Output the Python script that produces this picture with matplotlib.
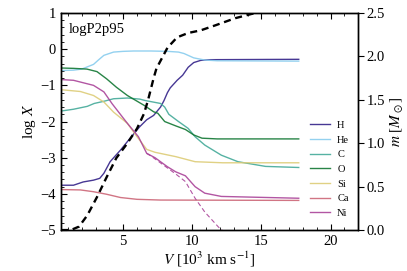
import numpy as np
import matplotlib
matplotlib.use("Agg")
import matplotlib.pyplot as plt
from matplotlib.ticker import MultipleLocator

plt.rcParams['font.family'] = ['Liberation Serif', 'DejaVu Serif']
plt.rcParams['mathtext.fontset'] = 'stix'
plt.rcParams['axes.linewidth'] = 1.0

model_name = "logP2p95"
elements = ["H", "He", "C", "O", "Si", "Ca", "Ni"]
colors = ["#332288", "#88CCEE", "#44AA99", "#117733", "#DDCC77", "#CC6677", "#AA4499"]

# velocity [1e3 km/s] and log mass fraction
v_H = [0.5, 1.4, 2.1, 2.85, 3.3, 3.6, 4.05, 4.8, 5.5, 6.2, 6.7, 7.2, 7.7, 7.95, 8.2, 8.4,
       8.9, 9.3, 9.7, 10.1, 10.6, 11.3, 17.7]
x_H = [-3.76, -3.76, -3.67, -3.62, -3.57, -3.43, -3.11, -2.79, -2.46, -2.14, -1.95, -1.83,
       -1.6, -1.42, -1.2, -1.07, -0.86, -0.72, -0.5, -0.37, -0.31, -0.29, -0.28]

v_He = [0.5, 1.4, 2.0, 2.85, 3.2, 3.6, 4.3, 5.0, 5.75, 7.0, 8.2, 9.0, 9.4, 10.1, 10.9, 11.8, 17.7]
x_He = [-0.59, -0.58, -0.55, -0.42, -0.3, -0.17, -0.08, -0.06, -0.05, -0.05, -0.06, -0.08,
        -0.12, -0.24, -0.3, -0.32, -0.33]

v_C = [0.5, 1.4, 2.4, 2.9, 3.6, 4.3, 5.3, 6.2, 6.6, 7.7, 8.0, 8.3, 9.0, 9.7, 10.2, 10.9,
       12.1, 13.3, 15.3, 17.7]
x_C = [-1.71, -1.66, -1.58, -1.5, -1.44, -1.37, -1.35, -1.38, -1.42, -1.5, -1.6, -1.8,
       -2.0, -2.19, -2.42, -2.65, -2.93, -3.11, -3.24, -3.27]

v_O = [0.5, 1.4, 2.37, 3.1, 3.8, 4.5, 5.3, 6.5, 7.2, 7.5, 8.0, 8.8, 9.5, 10.1, 10.7, 11.8, 17.7]
x_O = [-0.52, -0.53, -0.55, -0.62, -0.82, -1.05, -1.28, -1.55, -1.73, -1.77, -2.0, -2.12,
       -2.22, -2.37, -2.46, -2.48, -2.48]

v_Si = [0.5, 1.9, 2.85, 3.6, 4.3, 5.3, 6.0, 6.7, 7.3, 8.8, 10.2, 12.2, 17.7]
x_Si = [-1.12, -1.17, -1.28, -1.46, -1.74, -2.05, -2.42, -2.77, -2.85, -2.97, -3.11,
        -3.14, -3.14]

v_Ca = [0.5, 1.9, 2.85, 3.8, 4.8, 6.0, 7.7, 17.7]
x_Ca = [-3.88, -3.89, -3.94, -4.01, -4.1, -4.15, -4.17, -4.18]

v_Ni = [0.5, 1.4, 2.85, 3.6, 4.2, 5.3, 6.1, 6.7, 7.3, 8.2, 8.8, 9.5, 10.2, 10.9, 12.1, 17.7]
x_Ni = [-0.84, -0.86, -1.0, -1.18, -1.51, -2.05, -2.42, -2.88, -3.0, -3.25, -3.39, -3.5,
        -3.8, -3.98, -4.07, -4.12]

# decayed Ni (dashed)
v_Ni_dec = [6.7, 7.0, 7.9, 8.8, 9.5, 10.2, 10.9, 11.9, 12.2]
x_Ni_dec = [-2.88, -2.95, -3.2, -3.45, -3.66, -4.12, -4.5, -4.92, -5.02]

# mass coordinate [Msun]
v_m = [0.5, 1.2, 1.8, 2.4, 3.1, 3.8, 4.5, 5.3, 6.0, 6.5, 6.8, 7.2, 7.4, 8.2, 8.9, 9.7,
       10.6, 11.7, 13.1, 14.3, 15.0, 17.7]
m = [0.0, 0.0, 0.04, 0.17, 0.38, 0.61, 0.83, 1.0, 1.17, 1.34, 1.5, 1.75, 1.86, 2.1, 2.22,
     2.27, 2.3, 2.36, 2.44, 2.49, 2.51, 2.55]

series = [(v_H, x_H), (v_He, x_He), (v_C, x_C), (v_O, x_O),
          (v_Si, x_Si), (v_Ca, x_Ca), (v_Ni, x_Ni)]

fig = plt.figure(figsize=(4.07, 2.71), dpi=100)
ax = fig.add_axes([0.150, 0.151, 0.730, 0.801])

for (v, x), name, c in zip(series, elements, colors):
    ax.plot(v, x, color=c, lw=1.0, alpha=0.9, label=name)
ax.plot(v_Ni_dec, x_Ni_dec, color=colors[-1], lw=0.8, ls=(0, (4, 2.5)), alpha=0.9)

ax.set_xlim(0.5, 22)
ax.set_ylim(-5, 1)
ax.xaxis.set_major_locator(MultipleLocator(5))
ax.xaxis.set_minor_locator(MultipleLocator(1))
ax.yaxis.set_major_locator(MultipleLocator(1))
ax.yaxis.set_minor_locator(MultipleLocator(0.2))
ax.tick_params(which='both', direction='in', top=True, right=False, labelsize=10.5)
ax.tick_params(which='major', length=4.5, width=0.8)
ax.tick_params(which='minor', length=2.2, width=0.6)
ax.set_xlabel(r"$V$ [10$^3$ km s$^{-1}$]", fontsize=11, labelpad=1)
ax.set_ylabel(r"log $X$", fontsize=11, labelpad=2)
ax.text(0.025, 0.955, model_name, transform=ax.transAxes, ha='left', va='top', fontsize=10.5)

leg = ax.legend(loc='lower left', bbox_to_anchor=(0.805, 0.012), frameon=False,
                fontsize=7.5, handlelength=2.0, labelspacing=0.52, handletextpad=0.65)

ax2 = ax.twinx()
ax2.plot(v_m, m, color='black', lw=1.7, ls=(0, (3, 2)))
ax2.set_ylim(0, 2.5)
ax2.yaxis.set_major_locator(MultipleLocator(0.5))
ax2.yaxis.set_major_formatter(matplotlib.ticker.FormatStrFormatter('%.1f'))
ax2.tick_params(axis='y', direction='out', length=4, width=0.8, labelsize=10.5, pad=2)
ax2.set_ylabel(r"$m$ [$M_\odot$]", fontsize=11, labelpad=2)

fig.savefig("out.png", dpi=100)
